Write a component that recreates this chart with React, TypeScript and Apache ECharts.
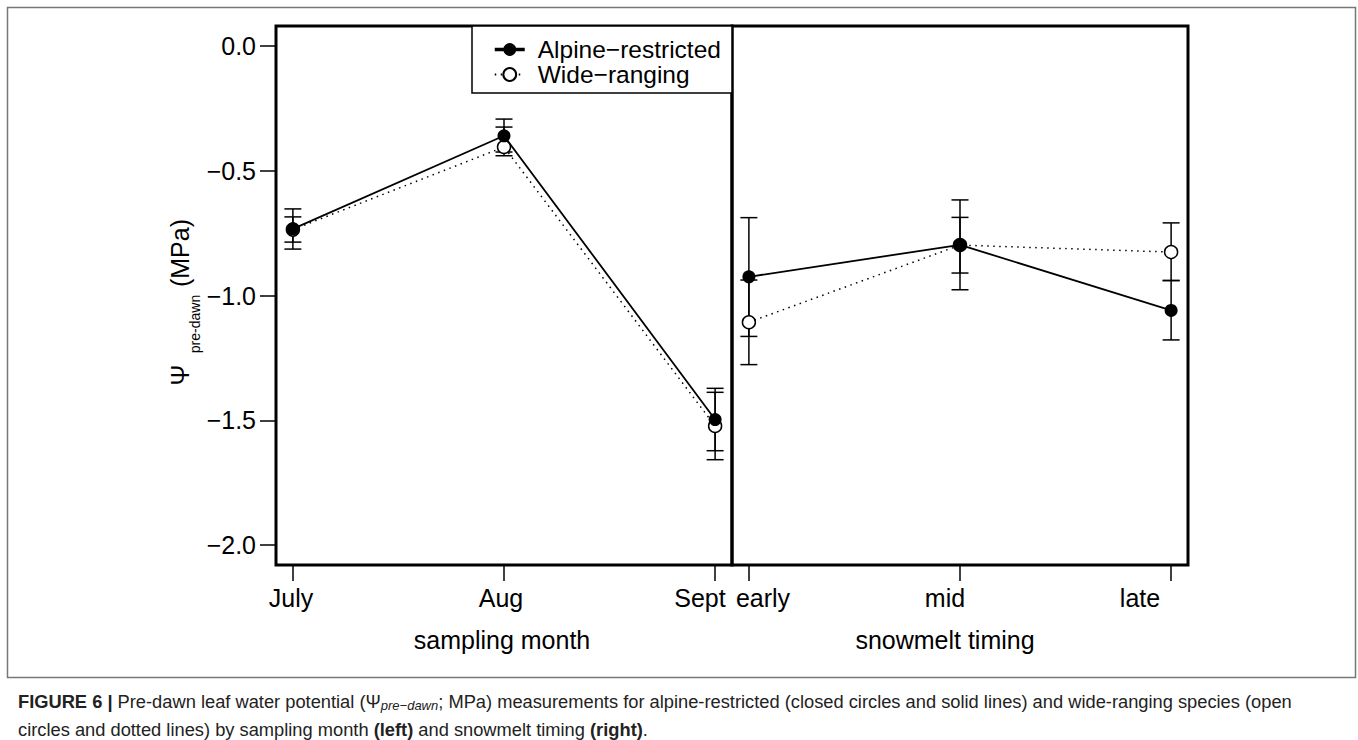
import React, { useEffect, useRef } from 'react';
import * as echarts from 'echarts';

// ---------- data ----------
const monthCategories = ['July', 'Aug', 'Sept'];
const snowCategories = ['early', 'mid', 'late'];
const yTickValues = [-2, -1.5, -1, -0.5, 0];

const SERIES_ALPINE = 'Alpine\u2212restricted';
const SERIES_WIDE = 'Wide\u2212ranging';

// sampling month panel
const alpineMonthMean = [-0.733, -0.36, -1.497];
const alpineMonthLo = [-0.814, -0.425, -1.622];
const alpineMonthHi = [-0.653, -0.293, -1.372];
const wideMonthMean = [-0.736, -0.405, -1.523];
const wideMonthLo = [-0.786, -0.44, -1.658];
const wideMonthHi = [-0.685, -0.325, -1.388];

// snowmelt timing panel
const alpineSnowMean = [-0.925, -0.797, -1.06];
const alpineSnowLo = [-1.164, -0.977, -1.178];
const alpineSnowHi = [-0.688, -0.617, -0.94];
const wideSnowMean = [-1.107, -0.798, -0.826];
const wideSnowLo = [-1.277, -0.91, -0.94];
const wideSnowHi = [-0.938, -0.687, -0.709];

// ---------- layout ----------
const FONT = '"Liberation Sans", Arial, Helvetica, sans-serif';
const CAPTION_FONT = '"Liberation Sans", Arial, sans-serif';
const CAPTION_SIZE = 18.3;
const gridLeft = { left: 276, top: 26, width: 456, height: 539 };
const gridRight = { left: 732, top: 26, width: 456, height: 539 };
const monthLabelX = [291, 501, 700];
const snowLabelX = [763, 945, 1140];
const tickLabelY = 598;

const toPoints = (vals: number[]) => vals.map((v, i) => [i + 1, v]);
const toBars = (mean: number[], lo: number[], hi: number[]) =>
  mean.map((v, i) => [i + 1, v, lo[i], hi[i]]);

const fmtY = (v: number) => (v === 0 ? '0.0' : '\u2212' + Math.abs(v).toFixed(1));

function errorBarRender(params: any, api: any) {
  const x = api.value(0);
  const lo = api.coord([x, api.value(2)]);
  const hi = api.coord([x, api.value(3)]);
  const hw = 8.5;
  const st = { stroke: '#000', lineWidth: 1.5 };
  return {
    type: 'group',
    children: [
      { type: 'line', shape: { x1: lo[0], y1: lo[1], x2: hi[0], y2: hi[1] }, style: st },
      { type: 'line', shape: { x1: lo[0] - hw, y1: lo[1], x2: lo[0] + hw, y2: lo[1] }, style: st },
      { type: 'line', shape: { x1: hi[0] - hw, y1: hi[1], x2: hi[0] + hw, y2: hi[1] }, style: st },
    ],
  };
}

function errorSeries(idx: number, data: number[][]) {
  return {
    type: 'custom',
    xAxisIndex: idx,
    yAxisIndex: idx,
    renderItem: errorBarRender,
    encode: { x: 0, y: [2, 3] },
    data,
    z: 1,
    silent: true,
  };
}

function wideSeries(idx: number, vals: number[]) {
  return {
    name: SERIES_WIDE,
    type: 'line',
    xAxisIndex: idx,
    yAxisIndex: idx,
    data: toPoints(vals),
    symbol: 'circle',
    symbolSize: 13,
    showSymbol: true,
    lineStyle: { color: '#000', width: 1.5, type: [1.5, 4.5] },
    itemStyle: { color: '#fff', borderColor: '#000', borderWidth: 1.5 },
    emphasis: { disabled: true },
    z: 2,
  };
}

function alpineSeries(idx: number, vals: number[]) {
  return {
    name: SERIES_ALPINE,
    type: 'line',
    xAxisIndex: idx,
    yAxisIndex: idx,
    data: toPoints(vals),
    symbol: 'circle',
    symbolSize: 13,
    showSymbol: true,
    lineStyle: { color: '#000', width: 1.8, type: 'solid' },
    itemStyle: { color: '#000', borderColor: '#000', borderWidth: 0 },
    emphasis: { disabled: true },
    z: 3,
  };
}

function xAxisDef(idx: number) {
  return {
    gridIndex: idx,
    type: 'value',
    position: 'bottom',
    min: 0.92,
    max: 3.08,
    axisLine: { show: false, onZero: false },
    splitLine: { show: false },
    axisTick: { show: true, customValues: [1, 2, 3], length: 16, lineStyle: { color: '#000', width: 1.5 } },
    axisLabel: { show: false },
  };
}

function yAxisDef(idx: number) {
  const visible = idx === 0;
  return {
    gridIndex: idx,
    type: 'value',
    position: 'left',
    min: -2.08,
    max: 0.08,
    axisLine: { show: false, onZero: false },
    splitLine: { show: false },
    axisTick: {
      show: visible,
      customValues: yTickValues,
      length: 16,
      lineStyle: { color: '#000', width: 1.5 },
    },
    axisLabel: {
      show: visible,
      customValues: yTickValues,
      formatter: fmtY,
      fontSize: 25,
      fontFamily: FONT,
      color: '#000',
      margin: 20,
    },
  };
}

function textEl(text: string, x: number, y: number, extra: any = {}) {
  return {
    type: 'text',
    x,
    y,
    silent: true,
    style: {
      text,
      fontSize: 25,
      fontFamily: FONT,
      fill: '#000',
      align: 'center',
      verticalAlign: 'middle',
      ...extra,
    },
  };
}

export default function App() {
  const ref = useRef<HTMLDivElement>(null);

  useEffect(() => {
    if (!ref.current) return;
    const chart = echarts.init(ref.current, undefined, { renderer: 'svg' });

    const labelTexts = [
      ...monthCategories.map((c, i) => textEl(c, monthLabelX[i], tickLabelY)),
      ...snowCategories.map((c, i) => textEl(c, snowLabelX[i], tickLabelY)),
      textEl('sampling month', 502, 640),
      textEl('snowmelt timing', 945, 640),
      { ...textEl('\u03A8', 180, 375), rotation: Math.PI / 2 },
      { ...textEl('pre-dawn', 195, 324, { fontSize: 14 }), rotation: Math.PI / 2 },
      { ...textEl('(MPa)', 180, 253), rotation: Math.PI / 2 },
    ];

    const captionRich = {
      b: { fontWeight: 'bold', fontSize: CAPTION_SIZE, fontFamily: CAPTION_FONT, fill: '#222' },
      s: { fontStyle: 'italic', fontSize: 13, fontFamily: CAPTION_FONT, fill: '#222', padding: [9, 0, 0, 0] },
    };

    const option: any = {
      animation: false,
      backgroundColor: '#fff',
      grid: [
        { ...gridLeft, show: true, borderColor: '#000', borderWidth: 3, backgroundColor: 'transparent', containLabel: false },
        { ...gridRight, show: true, borderColor: '#000', borderWidth: 3, backgroundColor: 'transparent', containLabel: false },
      ],
      xAxis: [xAxisDef(0), xAxisDef(1)],
      yAxis: [yAxisDef(0), yAxisDef(1)],
      legend: {
        show: true,
        orient: 'vertical',
        left: 493,
        top: 37,
        padding: 0,
        itemGap: 0,
        itemWidth: 30,
        itemHeight: 16,
        selectedMode: false,
        data: [
          { name: SERIES_ALPINE, lineStyle: { width: 3.5 } },
          { name: SERIES_WIDE },
        ],
        textStyle: {
          fontSize: 24.5,
          fontFamily: FONT,
          color: '#000',
          lineHeight: 23,
          padding: [0, 0, 0, 8],
        },
      },
      series: [
        errorSeries(0, toBars(alpineMonthMean, alpineMonthLo, alpineMonthHi)),
        errorSeries(0, toBars(wideMonthMean, wideMonthLo, wideMonthHi)),
        wideSeries(0, wideMonthMean),
        alpineSeries(0, alpineMonthMean),
        errorSeries(1, toBars(alpineSnowMean, alpineSnowLo, alpineSnowHi)),
        errorSeries(1, toBars(wideSnowMean, wideSnowLo, wideSnowHi)),
        wideSeries(1, wideSnowMean),
        alpineSeries(1, alpineSnowMean),
      ],
      graphic: [
        {
          type: 'rect',
          silent: true,
          shape: { x: 7.5, y: 7.5, width: 1348, height: 670 },
          style: { fill: 'none', stroke: '#777', lineWidth: 1.5 },
          z: -10,
        },
        {
          type: 'rect',
          silent: true,
          shape: { x: 472, y: 26, width: 260, height: 67 },
          style: { fill: '#fff', stroke: '#000', lineWidth: 1.5 },
          z: 0,
        },
        ...labelTexts,
        {
          type: 'text',
          x: 18,
          y: 701,
          silent: true,
          style: {
            text:
              '{b|FIGURE 6 |} Pre-dawn leaf water potential (\u03A8{s|pre\u2212dawn}; MPa) measurements for alpine-restricted (closed circles and solid lines) and wide-ranging species (open',
            rich: captionRich,
            fontSize: CAPTION_SIZE,
            fontFamily: CAPTION_FONT,
            fill: '#222',
            align: 'left',
            verticalAlign: 'middle',
          },
        },
        {
          type: 'text',
          x: 18,
          y: 729,
          silent: true,
          style: {
            text: 'circles and dotted lines) by sampling month {b|(left)} and snowmelt timing {b|(right)}.',
            rich: captionRich,
            fontSize: CAPTION_SIZE,
            fontFamily: CAPTION_FONT,
            fill: '#222',
            align: 'left',
            verticalAlign: 'middle',
          },
        },
      ],
    };

    chart.setOption(option);
    return () => chart.dispose();
  }, []);

  return (
    <div
      ref={ref}
      style={{ position: 'fixed', left: 0, top: 0, width: 1358, height: 740, background: '#fff' }}
    />
  );
}
